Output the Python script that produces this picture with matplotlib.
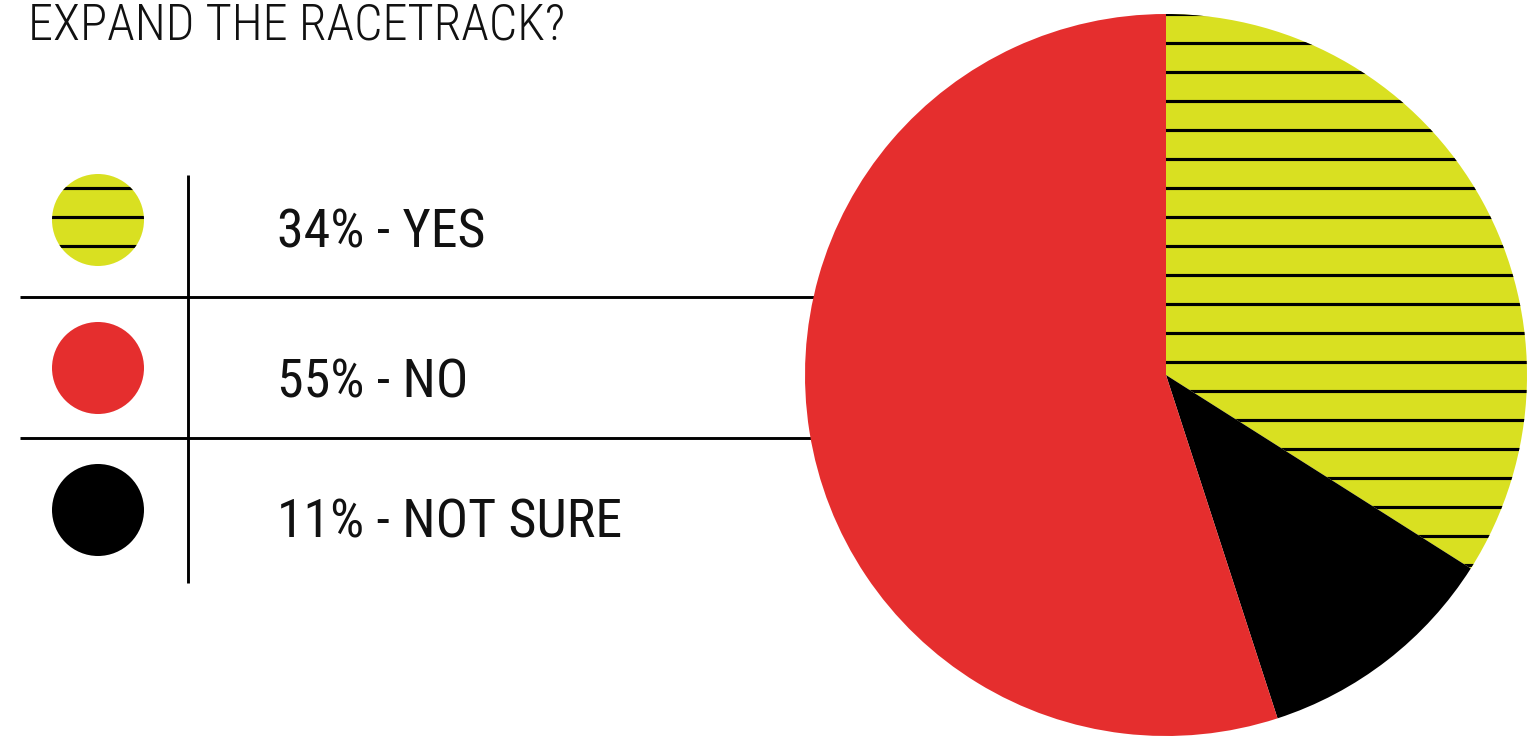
import matplotlib.pyplot as plt
from matplotlib.patches import Circle

# data
labels = ["YES", "NO", "NOT SURE"]
shares = [34, 55, 11]
colors = ["#D9E021", "#E52E2E", "#000000"]
hatches = ["-", "", ""]
pie_order = [0, 2, 1]   # clockwise from 12 o'clock: yes, not sure, no
title = "EXPAND THE RACETRACK?"

W, H, DPI = 1530, 736, 174
plt.rcParams['hatch.linewidth'] = 1.3
plt.rcParams['hatch.color'] = 'black'
font = ['Roboto Condensed', 'DejaVu Sans Condensed', 'Liberation Sans Narrow', 'Liberation Sans']

fig = plt.figure(figsize=(W / DPI, H / DPI), dpi=DPI)
ax = fig.add_axes([0, 0, 1, 1])

# table lines of the legend (behind the pie)
ax.plot([20, 830], [H - 297, H - 297], color='black', lw=1.2, zorder=1, solid_capstyle='butt')
ax.plot([20, 830], [H - 438, H - 438], color='black', lw=1.2, zorder=1, solid_capstyle='butt')
ax.plot([188, 188], [H - 175, H - 583], color='black', lw=1.2, zorder=1, solid_capstyle='butt')

# pie
wedges, _ = ax.pie([shares[i] for i in pie_order],
                   colors=[colors[i] for i in pie_order],
                   startangle=90, counterclock=False,
                   center=(1166, H - 375), radius=361,
                   wedgeprops=dict(linewidth=0))
for w, i in zip(wedges, pie_order):
    w.set_zorder(2)
    if hatches[i]:
        w.set_hatch(hatches[i])
        w.set_edgecolor('black')
        w.set_linewidth(0)

# legend markers and labels
rows_y = [H - 220, H - 368, H - 510]
text_y = [H - 247, H - 397, H - 538]
for lab, val, c, h, cy, ty in zip(labels, shares, colors, hatches, rows_y, text_y):
    circ = Circle((98, cy), 46, facecolor=c, edgecolor='black' if h else c,
                  linewidth=0, hatch=h or None, zorder=3)
    ax.add_patch(circ)
    ax.text(277, ty, f"{val}% - {lab}", fontsize=22.3, family=font, fontweight='normal',
            va='baseline', ha='left', color='#111111')

# title sits at the very top edge (slightly lowered so it is not clipped)
ax.text(28, H - 39, title, fontsize=20.8, family=font, fontweight='light',
        va='baseline', ha='left', color='#111111')

ax.set_xlim(0, W)
ax.set_ylim(0, H)
ax.set_aspect('auto')
ax.axis('off')

fig.savefig('out.png', dpi=DPI)
